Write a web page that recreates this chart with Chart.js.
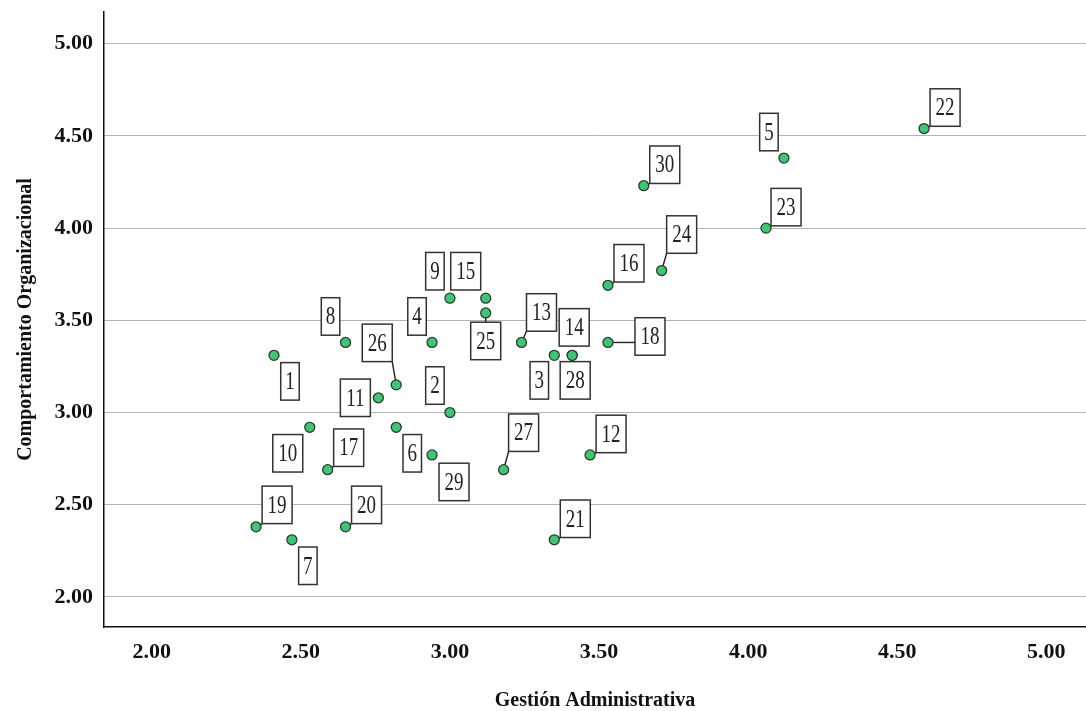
<!DOCTYPE html>
<html><head><meta charset="utf-8">
<script src="https://cdn.jsdelivr.net/npm/chart.js@4/dist/chart.umd.min.js"></script>
<style>html,body{margin:0;padding:0;background:#fff;overflow:hidden}</style>
</head><body>
<canvas id="c" width="1086" height="711" style="display:block;width:1086px;height:711px"></canvas>
<script>
// ---- data ----
const caseIds = [1,2,3,4,5,6,7,8,9,10,11,12,13,14,15,16,17,18,19,20,21,22,23,24,25,26,27,28,29,30];
const gestionAdministrativa = [2.41,3.00,3.35,2.94,4.12,2.82,2.47,2.65,3.00,2.53,2.76,3.47,3.24,3.41,3.12,3.53,2.59,3.53,2.35,2.65,3.35,4.59,4.06,3.71,3.12,2.82,3.18,3.41,2.94,3.65];
const comportamientoOrganizacional = [3.31,3.00,3.31,3.38,4.38,2.92,2.31,3.38,3.62,2.92,3.08,2.77,3.38,3.31,3.62,3.69,2.69,3.38,2.38,2.38,2.31,4.54,4.00,3.77,3.54,3.15,2.69,3.31,2.77,4.23];
const xTickValues = [2.00,2.50,3.00,3.50,4.00,4.50,5.00];
const yTickValues = [2.00,2.50,3.00,3.50,4.00,4.50,5.00];
const xTitle = 'Gestión Administrativa';
const yTitle = 'Comportamiento Organizacional';

// ---- label layout (pixel offsets of box centre from its point) ----
const labelOffsets = [[16,26],[-15,-27],[-15,25],[-15,-26],[-15,-26],[16,26],[16,26],[-15,-26],[-15,-27],[-22,26],
  [-23,0],[21,-21],[20,-30],[2,-28],[-20,-27],[21,-22],[21,-22],[42,-6],[21,-22],[21,-22],
  [21,-21],[21,-21],[20,-21],[20,-36],[0,28],[-19,-42],[20,-37],[3,25],[22,27],[21,-21]];
const labelConnector = [0,0,0,0,0,0,0,0,0,0, 0,1,1,0,0,1,1,1,1,1, 1,1,1,1,1,1,1,0,0,1];

const points = gestionAdministrativa.map((x,i)=>({x:x, y:comportamientoOrganizacional[i]}));

function boxRect(chart, i){
  const el = chart.getDatasetMeta(0).data[i];
  const txt = String(caseIds[i]);
  const w = txt.length > 1 ? 30 : 18.5;
  const h = 37.5;
  const cx = el.x + labelOffsets[i][0], cy = el.y + labelOffsets[i][1];
  return {px:el.x, py:el.y, cx, cy, l:cx-w/2, r:cx+w/2, t:cy-h/2, b:cy+h/2, w, h, txt};
}

const labelPlugin = {
  id:'caseLabels',
  beforeDatasetsDraw(chart){
    const ctx = chart.ctx;
    ctx.save();
    ctx.strokeStyle = '#222';
    ctx.lineWidth = 1.4;
    caseIds.forEach((id,i)=>{
      if(!labelConnector[i]) return;
      const r = boxRect(chart,i);
      const nx = Math.min(Math.max(r.px, r.l), r.r);
      const ny = Math.min(Math.max(r.py, r.t), r.b);
      ctx.beginPath(); ctx.moveTo(r.px, r.py); ctx.lineTo(nx, ny); ctx.stroke();
    });
    ctx.restore();
  },
  afterDatasetsDraw(chart){
    const ctx = chart.ctx;
    ctx.save();
    caseIds.forEach((id,i)=>{
      const r = boxRect(chart,i);
      ctx.fillStyle = '#fff';
      ctx.fillRect(r.l, r.t, r.w, r.h);
      ctx.strokeStyle = '#333';
      ctx.lineWidth = 1.5;
      ctx.strokeRect(r.l, r.t, r.w, r.h);
      ctx.save();
      ctx.translate(r.cx, r.cy+1);
      ctx.scale(1, 1.35);
      ctx.fillStyle = '#222';
      ctx.font = '19px "Liberation Serif", "DejaVu Serif", serif';
      ctx.textAlign = 'center';
      ctx.textBaseline = 'middle';
      ctx.fillText(r.txt, 0, 0);
      ctx.restore();
    });
    ctx.restore();
  }
};

const tickFont = {family:'"Liberation Serif", serif', size:22, weight:'bold'};
const titleFont = {family:'"Liberation Serif", serif', size:20, weight:'bold'};

new Chart(document.getElementById('c'), {
  type:'scatter',
  data:{datasets:[{
    data:points,
    backgroundColor:'#44c277',
    borderColor:'#23402a',
    borderWidth:1.3,
    pointRadius:5,
    pointHoverRadius:5
  }]},
  options:{
    responsive:false,
    devicePixelRatio:1,
    animation:false,
    events:[],
    layout:{autoPadding:false, padding:{top:12,right:0,left:0,bottom:0}},
    plugins:{legend:{display:false}, tooltip:{enabled:false}},
    scales:{
      x:{
        type:'linear', min:1.840, max:5.133,
        afterBuildTicks:(s)=>{ s.ticks = xTickValues.map(v=>({value:v})); },
        afterFit:(s)=>{ s.height = 84; s.paddingLeft = 0; s.paddingRight = 0; },
        ticks:{ font:tickFont, color:'#111', padding:12, maxRotation:0, autoSkip:false,
                callback:(v)=>Number(v).toFixed(2) },
        grid:{ display:false, drawTicks:false },
        border:{ display:true, color:'#111', width:1.5 },
        title:{ display:true, text:xTitle, font:titleFont, color:'#111', padding:{top:0,bottom:-2} }
      },
      y:{
        type:'linear', min:1.837, max:5.172,
        afterBuildTicks:(s)=>{ s.ticks = yTickValues.map(v=>({value:v})); },
        afterFit:(s)=>{ s.width = 104; s.paddingTop = 0; s.paddingBottom = 0; },
        ticks:{ font:tickFont, color:'#111', padding:11, autoSkip:false,
                callback:(v)=>Number(v).toFixed(2) },
        grid:{ color:'#b3b3b3', lineWidth:1, drawTicks:false },
        border:{ display:true, color:'#111', width:1.5 },
        title:{ display:true, text:yTitle, font:titleFont, color:'#111', padding:{top:14,bottom:0} }
      }
    }
  },
  plugins:[labelPlugin]
});
</script>
</body></html>
